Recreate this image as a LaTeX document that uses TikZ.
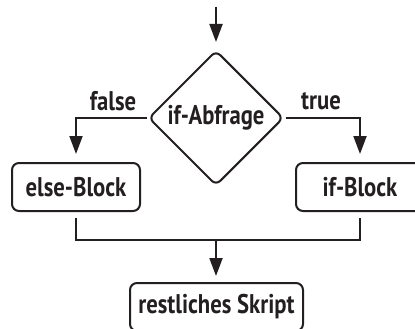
\documentclass[tikz,border=0pt]{standalone}
\usepackage{fontspec}
\setmainfont{PT Sans}[FakeStretch=0.84]
\usetikzlibrary{shapes.geometric,arrows.meta}
\definecolor{ink}{RGB}{35,31,32}
\begin{document}
\begin{tikzpicture}[x=1pt,y=-1pt,
  line width=2pt, draw=ink,
  every node/.style={font=\bfseries\fontsize{27}{30}\selectfont, text=ink},
  block/.style={draw=ink, rounded corners=7pt, minimum width=128pt, minimum height=48pt, inner sep=0pt},
  decision/.style={draw=ink, diamond, rounded corners=6pt, minimum width=135pt, minimum height=135pt, inner sep=0pt},
  flow/.style={-{Triangle[width=13pt,length=18pt]}},
  lbl/.style={inner sep=0pt}]
\useasboundingbox (0,0) rectangle (415,329);
\coordinate (start) at (216,7);
\node[decision] (cond) at (216,118) {if-Abfrage};
\node[block] (else) at (76,187) {else-Block};
\node[block] (if) at (360,187) {if-Block};
\node[block, minimum width=173pt] (rest) at (216.5,307) {restliches Skript};
\node[lbl] (f) at (113,101) {false};
\node[lbl] (t) at (321,101) {true};
\coordinate (join) at (216,240);

\draw[flow] (start) -- ([yshift=7.5pt]cond.north);
\draw[flow] ([xshift=-1pt]cond.west) -| ([yshift=8pt]else.north);
\draw[flow] ([xshift=1pt]cond.east) -| ([yshift=8pt]if.north);
\draw ([yshift=-6pt]else.south) |- (join) -| ([yshift=-6pt]if.south);
\draw[flow] (join) -- ([yshift=6pt]rest.north -| join);
\end{tikzpicture}
\end{document}
